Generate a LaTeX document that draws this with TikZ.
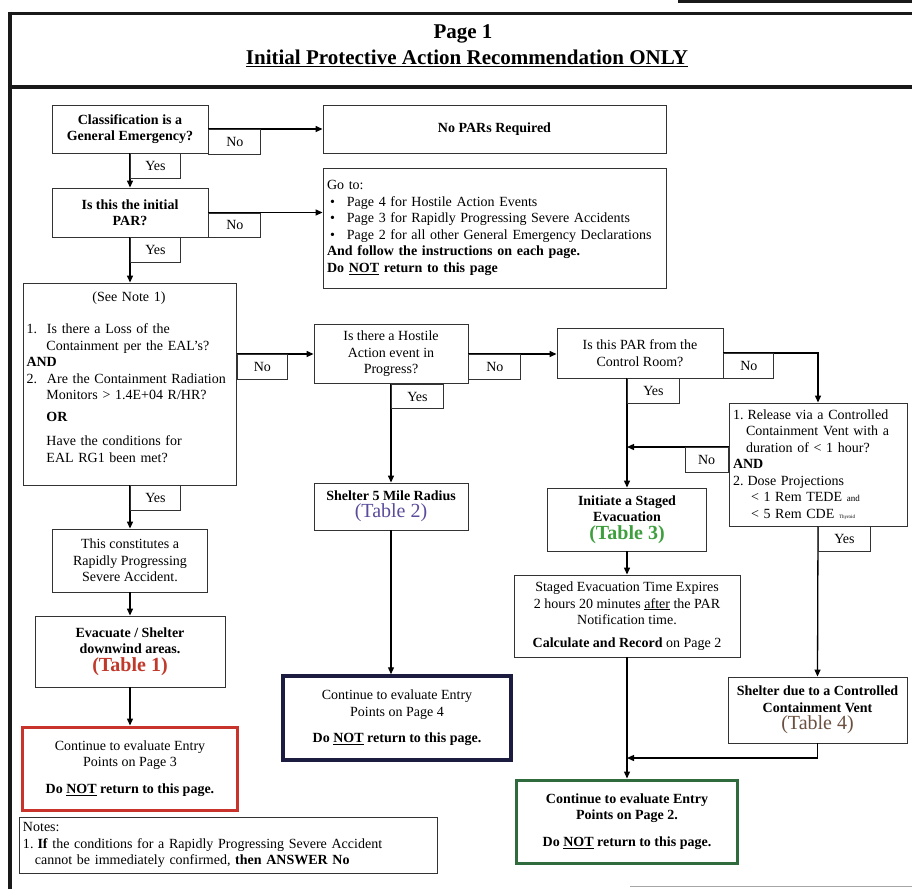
\documentclass[tikz,border=0pt]{standalone}
\usepackage{fontspec}
\setmainfont{Liberation Serif}
\usetikzlibrary{arrows.meta}
\definecolor{redframe}{HTML}{C8342C}
\definecolor{navyframe}{HTML}{1C1C40}
\definecolor{greenframe}{HTML}{2F6B3C}
\definecolor{tred}{HTML}{C0392B}
\definecolor{tpurple}{HTML}{5B4B9B}
\definecolor{tgreen}{HTML}{3F9F3F}
\definecolor{tbrown}{HTML}{6B5040}
\newcommand\txtsz{\fontsize{14}{16.5}\selectfont}
\newcommand\tblsz{\fontsize{20}{22}\selectfont}
\newcommand\ttlsz{\fontsize{21}{25}\selectfont}
\begin{document}
\begin{tikzpicture}[x=1pt,y=-1pt,
  box/.style={draw=black!80, line width=0.9pt, inner sep=3pt, font=\txtsz, align=center},
  lbl/.style={draw=black!80, line width=0.9pt, minimum width=50pt, minimum height=24.5pt, inner sep=0pt, font=\txtsz},
  arr/.style={line width=1.3pt, -{Triangle[length=7pt,width=6pt]}},
  frame/.style={line width=3pt, black!90}]
\useasboundingbox (0,0) rectangle (912,889);

% page frame and title block
\draw[frame] (678,1.5) -- (912,1.5);
\draw[frame] (10,13) -- (912,13);
\draw[frame, line width=3.5pt] (10,87) -- (912,87);
\draw[frame, line width=4pt] (10,11.5) -- (10,889);
\draw[black!35, line width=0.8pt] (630,886) -- (912,886);
\node[font=\ttlsz\bfseries] (pg) at (463,34) {Page 1};
\node[font=\ttlsz\bfseries] (ttl) at (467,58) {\underline{Initial Protective Action Recommendation ONLY}};

% decision and action boxes
\node[box, font=\txtsz\bfseries, minimum width=156pt, minimum height=48pt] (q1) at (130,129) {Classification is a\\General Emergency?};
\node[box, font=\txtsz\bfseries, minimum width=156pt, minimum height=49pt] (q2) at (130,212.5) {Is this the initial\\PAR?};
\node[box, font=\txtsz\bfseries, minimum width=343pt, minimum height=48pt] (nopar) at (494.5,129) {No PARs Required};
\node[box, minimum width=343pt, minimum height=120pt, text width=335pt, align=left] (goto) at (494.5,228) {Go to:\\
\hspace*{3pt}\textbullet\hspace{12pt}Page 4 for Hostile Action Events\\
\hspace*{3pt}\textbullet\hspace{12pt}Page 3 for Rapidly Progressing Severe Accidents\\
\hspace*{3pt}\textbullet\hspace{12pt}Page 2 for all other General Emergency Declarations\\
\textbf{And follow the instructions on each page.}\\
\textbf{Do \underline{NOT} return to this page}};

\node[box, minimum width=213pt, minimum height=202pt, text width=207pt, align=left] (q3) at (130,384) {\makebox[205pt]{(See Note 1)}\\[16pt]
1.\hspace{10pt}Is there a Loss of the\\
\hspace*{20pt}Containment per the EAL's?\\
\textbf{AND}\\
2.\hspace{10pt}Are the Containment Radiation\\
\hspace*{20pt}Monitors > 1.4E+04 R/HR?\\[5pt]
\hspace*{20pt}\textbf{OR}\\[8pt]
\hspace*{20pt}Have the conditions for\\
\hspace*{20pt}EAL RG1 been met?\\[-2pt]\mbox{}};

\node[box, minimum width=154pt, minimum height=59pt] (q4) at (391,354) {Is there a Hostile\\Action event in\\Progress?};
\node[box, minimum width=166pt, minimum height=50pt] (q5) at (640,353) {Is this PAR from the\\Control Room?};
\node[box, minimum width=178pt, minimum height=123pt, text width=170pt, align=left] (q6) at (818,464.5) {1.\hspace{4pt}Release via a Controlled\\
\hspace*{13pt}Containment Vent with a\\
\hspace*{13pt}duration of < 1 hour?\\
\textbf{AND}\\
2.\hspace{4pt}Dose Projections\\
\hspace*{18pt}< 1 Rem TEDE {\small and}\\
\hspace*{18pt}< 5 Rem CDE {\tiny Thyroid}};

\node[box, minimum width=155pt, minimum height=63pt] (a1) at (130,560.5) {This constitutes a\\Rapidly Progressing\\Severe Accident.};
\node[box, font=\txtsz\bfseries, minimum width=190pt, minimum height=71pt] (a2) at (130,651.5) {Evacuate / Shelter\\downwind areas.\\[1pt]{\tblsz\color{tred}(Table 1)}};
\node[box, draw=redframe, line width=3pt, minimum width=215pt, minimum height=83pt] (e1) at (130,768.5) {Continue to evaluate Entry\\Points on Page 3\\[10pt]\textbf{Do \underline{NOT} return to this page.}};

\node[box, minimum width=154pt, minimum height=47pt] (s2) at (391,506.5) {\textbf{Shelter 5 Mile Radius}\\[1pt]{\tblsz\color{tpurple}(Table 2)}};
\node[box, draw=navyframe, line width=3.5pt, minimum width=228pt, minimum height=84pt] (e2) at (397,718) {Continue to evaluate Entry\\Points on Page 4\\[10pt]\textbf{Do \underline{NOT} return to this page.}};

\node[box, font=\txtsz\bfseries, minimum width=159pt, minimum height=63pt] (s3) at (627,519.5) {Initiate a Staged\\Evacuation\\[1pt]{\tblsz\color{tgreen}(Table 3)}};
\node[box, minimum width=226pt, minimum height=82pt] (s3b) at (627,616) {Staged Evacuation Time Expires\\2 hours 20 minutes \underline{after} the PAR\\Notification time.\\[6pt]\textbf{Calculate and Record} on Page 2};
\node[box, font=\txtsz\bfseries, minimum width=179pt, minimum height=66pt] (s4) at (817.5,710) {Shelter due to a Controlled\\Containment Vent\\[1pt]{\tblsz\mdseries\color{tbrown}(Table 4)}};
\node[box, font=\txtsz\bfseries, draw=greenframe, line width=3pt, minimum width=221pt, minimum height=83pt] (e3) at (627,821.5) {Continue to evaluate Entry\\Points on Page 2.\\[10pt]Do \underline{NOT} return to this page.};

\node[box, minimum width=418pt, minimum height=56pt, text width=410pt, align=left] (notes) at (228,845) {Notes:\\
1.\hspace{4pt}\textbf{If} the conditions for a Rapidly Progressing Severe Accident\\
\hspace*{12pt}cannot be immediately confirmed, \textbf{then ANSWER No}};

% helper points
\coordinate (q6n) at ([yshift=17.5pt]q6.west);
\coordinate (jy) at (0,758);

% connectors
\draw[arr] (q1.east) -- (nopar.west);
\draw[arr] (q1.south) -- (q2.north);
\draw[arr] (q2.east) -- (q2.east -| goto.west);
\draw[arr] (q2.south) -- (q3.north);
\draw[arr] (q4.west -| q3.east) -- (q4.west);
\draw[arr] (q3.south) -- (a1.north);
\draw[arr] (a1.south) -- (a2.north);
\draw[arr] (a2.south) -- (e1.north);
\draw[arr] (q4.east) -- (q4.east -| q5.west);
\draw[arr] (q4.south) -- (s2.north);
\draw[arr] (s2.south) -- (s2.south |- e2.north);
\draw[arr] (q5.east) -| (q6.north);
\draw[arr] (s3.north |- q5.south) -- (s3.north);
\draw[arr] (q6n) -- (q6n -| s3.north);
\draw[arr] (q6.south) -- (s4.north);
\draw[arr] (s3.south) -- (s3b.north);
\draw[arr] (s3b.south) -- (e3.north);
\draw[arr] (s4.south) |- (s3b.south |- jy);

% Yes / No tags beside the branches
\node[lbl, anchor=north west, minimum width=52pt] (q1no) at (q1.east) {No};
\node[lbl, anchor=north west] (q1yes) at (q1.south) {Yes};
\node[lbl, anchor=north west, minimum width=52pt] (q2no) at (q2.east) {No};
\node[lbl, anchor=north west] (q2yes) at (q2.south) {Yes};
\node[lbl, anchor=north west] (q3no) at (q4.west -| q3.east) {No};
\node[lbl, anchor=north west] (q3yes) at (q3.south) {Yes};
\node[lbl, anchor=north west, minimum width=52pt] (q4no) at (q4.east) {No};
\node[lbl, anchor=north west, minimum width=52pt] (q4yes) at (q4.south) {Yes};
\node[lbl, anchor=north west] (q5no) at (q5.east) {No};
\node[lbl, anchor=north west, minimum width=52pt] (q5yes) at (s3.north |- q5.south) {Yes};
\node[lbl, anchor=north east, minimum width=43pt] (q6no) at (q6n) {No};
\node[lbl, anchor=north west, minimum width=52pt] (q6yes) at (q6.south) {Yes};
\end{tikzpicture}
\end{document}
